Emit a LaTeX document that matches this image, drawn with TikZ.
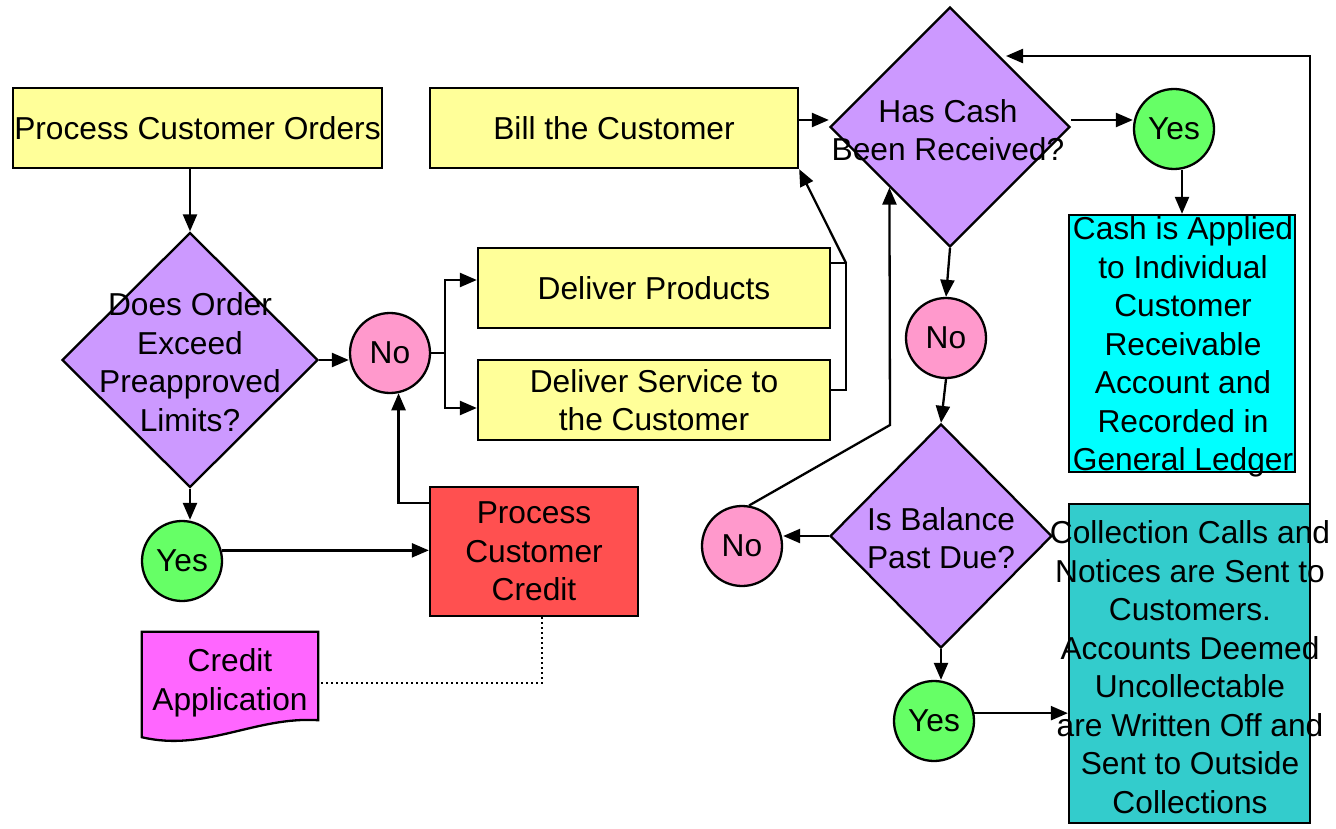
\documentclass[tikz,border=0pt]{standalone}
\usepackage{fontspec}
\setmainfont{Liberation Sans}
\usetikzlibrary{shapes.geometric,arrows.meta,backgrounds}
\definecolor{cyel}{HTML}{FFFF99}
\definecolor{cpur}{HTML}{CC99FF}
\definecolor{cpink}{HTML}{FF99CC}
\definecolor{cgreen}{HTML}{66FF66}
\definecolor{cred}{HTML}{FF5050}
\definecolor{cmag}{HTML}{FF66FF}
\definecolor{ccyan}{HTML}{00FFFF}
\definecolor{cteal}{HTML}{33CCCC}
\begin{document}
\begin{tikzpicture}[x=1pt,y=-1pt,
  base/.style={draw=black, line width=2.3pt, inner sep=0pt, font=\fontsize{31.7}{38.5}\selectfont, align=center},
  box/.style={base, rectangle},
  diam/.style={base, diamond},
  circ/.style={base, circle, minimum size=80pt},
  txt/.style={inner sep=0pt, font=\fontsize{31.7}{38.5}\selectfont, align=center},
  con/.style={line width=2.3pt},
  arr/.style={line width=2.3pt, -{Triangle[length=17pt,width=14pt]}},
  dots/.style={line width=2pt, dash pattern=on 2pt off 3pt}]
\useasboundingbox (0,0) rectangle (1336,829);

\node[box, fill=cyel, minimum width=369pt, minimum height=80pt] (pco) at (197.5,128) {Process Customer Orders};
\node[box, fill=cyel, minimum width=368pt, minimum height=80pt] (bill) at (614,128) {Bill the Customer};
\node[diam, fill=cpur, minimum width=256pt, minimum height=255pt] (d1) at (190,360) {};
\node[txt] (d1t) at (190,362) {Does Order\\Exceed\\Preapproved\\Limits?};
\node[circ, fill=cpink] (no1) at (390,353) {No};
\node[box, fill=cyel, minimum width=352pt, minimum height=80pt] (dp) at (654,288) {Deliver Products};
\node[box, fill=cyel, minimum width=352pt, minimum height=80pt] (ds) at (654,400) {Deliver Service to\\the Customer};
\node[circ, fill=cgreen] (yes1) at (182,561) {Yes};
\node[box, fill=cred, minimum width=208pt, minimum height=129pt] (cred) at (534,551.5) {Process\\Customer\\Credit};
\node[txt, minimum width=176pt, minimum height=102pt] (doc) at (230,683) {Credit\\Application};
\begin{scope}[on background layer]
\fill[white] (0,0) rectangle (1336,829);
\draw[con, fill=cmag] (doc.north west) -- (doc.north east) -- ([yshift=14pt]doc.south east)
  .. controls +(-63,-4) and +(63,15) .. ([yshift=-3pt]doc.south west) -- cycle;
\end{scope}

\node[diam, fill=cpur, minimum width=240pt, minimum height=240pt] (d2) at (950,127) {};
\node[txt] (d2t) at (948,130) {Has Cash\\Been Received?};
\node[circ, fill=cgreen] (yes2) at (1174,129) {Yes};
\node[box, fill=ccyan, minimum width=226pt, minimum height=257pt] (cash) at (1182,343.5) {};
\node[txt] (casht) at (1183,347) {Cash is Applied\\to Individual\\Customer\\Receivable\\Account and\\Recorded in\\General Ledger};
\node[circ, fill=cpink] (no2) at (946,338) {No};
\node[diam, fill=cpur, minimum width=222pt, minimum height=224pt] (d3) at (941,536) {};
\node[txt] (d3t) at (941,538) {Is Balance\\Past Due?};
\node[circ, fill=cpink] (no3) at (742,546) {No};
\node[circ, fill=cgreen] (yes3) at (934,721) {Yes};
\node[box, fill=cteal, minimum width=241pt, minimum height=319pt] (coll) at (1189.5,663.5) {};
\node[txt] (collt) at (1190,667) {Collection Calls and\\Notices are Sent to\\Customers.\hspace*{17pt}\\Accounts Deemed\\Uncollectable\\are Written Off and\\Sent to Outside\\Collections};

% connectors
\draw[arr] (pco.south -| d1.north) -- (d1.north);
\draw[arr] (d1.east) -- (d1.east -| no1.west);
\coordinate (j0) at (445,353);
\draw[con] (no1.east) -- (j0);
\draw[arr] (j0) |- ([yshift=8pt]dp.west);
\draw[arr] (j0) |- ([yshift=-8pt]ds.west);
\coordinate (j1) at (846,263);
\coordinate (j2) at (846,390);
\draw[con] (dp.east |- j1) -- (j1) -- (j2) -- (ds.east |- j2);
\draw[arr] (j1) -- (bill.south east);
\draw[arr] (d1.south) -- (d1.south |- yes1.north);
\draw[arr] (yes1.15) -- (yes1.15 -| cred.west);
\draw[arr] ([yshift=48.5pt]cred.west) -| (no1.-78);
\draw[dots] ([xshift=8pt]cred.south) |- (doc.east);

\draw[arr] ([yshift=8pt]bill.east) -- ([yshift=8pt]bill.east -| d2.west);
\draw[arr] ([yshift=7pt]d2.east) -- ([yshift=7pt]d2.east -| yes2.west);
\draw[arr] (cash.north |- yes2.south) -- (cash.north);
\draw[arr] (d2.south) -- (no2.north);
\draw[arr] (no2.south) -- (d3.north);
\draw[arr] (d3.west) -- (d3.west -| no3.east);
\coordinate (k3) at (890,425);
\draw[arr] (no3.80) -- (k3) -- (d2.south west);
\draw[arr] (d3.south) -- (d3.south |- yes3.north);
\draw[arr] (yes3.11) -- (yes3.11 -| coll.west);
\coordinate (k4) at (1006,56);
\draw[arr] ([xshift=-1pt]coll.north east) |- (k4);
\end{tikzpicture}
\end{document}
